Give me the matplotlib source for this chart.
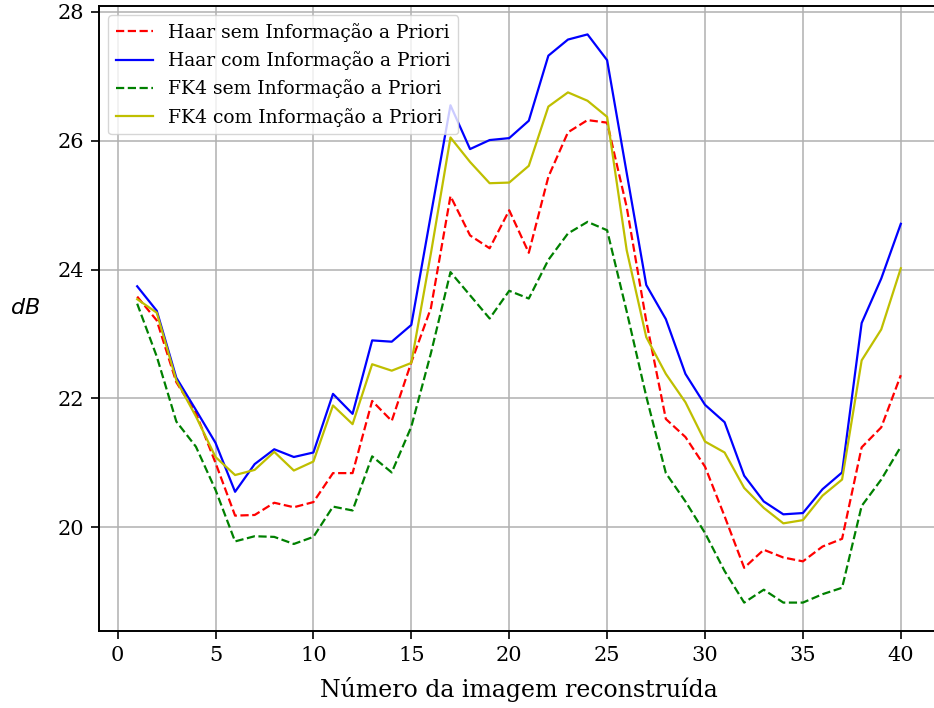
import numpy as np
import matplotlib
matplotlib.use("Agg")
import matplotlib.pyplot as plt

plt.rcParams['font.family'] = 'DejaVu Serif'

imagens = np.arange(1, 41)

haar_sem = [23.58, 23.21, 22.25, 21.77, 21.00, 20.18, 20.19, 20.38, 20.31, 20.39,
            20.84, 20.84, 21.96, 21.65, 22.56, 23.40, 25.14, 24.53, 24.33, 24.92,
            24.26, 25.44, 26.13, 26.32, 26.28, 24.97, 23.20, 21.68, 21.40, 20.94,
            20.17, 19.37, 19.65, 19.53, 19.47, 19.70, 19.82, 21.24, 21.55, 22.36]
haar_com = [23.74, 23.36, 22.32, 21.82, 21.31, 20.55, 20.98, 21.21, 21.09, 21.16,
            22.07, 21.76, 22.90, 22.88, 23.14, 24.85, 26.55, 25.87, 26.01, 26.04,
            26.31, 27.32, 27.57, 27.65, 27.25, 25.50, 23.76, 23.23, 22.38, 21.90,
            21.63, 20.80, 20.40, 20.20, 20.22, 20.59, 20.85, 23.17, 23.86, 24.71]
fk4_sem = [23.47, 22.65, 21.64, 21.25, 20.58, 19.78, 19.86, 19.85, 19.74, 19.85,
           20.32, 20.26, 21.10, 20.85, 21.56, 22.70, 23.96, 23.60, 23.24, 23.67,
           23.55, 24.15, 24.56, 24.74, 24.61, 23.35, 22.03, 20.84, 20.40, 19.91,
           19.32, 18.83, 19.03, 18.83, 18.83, 18.96, 19.06, 20.33, 20.74, 21.25]
fk4_com = [23.54, 23.33, 22.28, 21.72, 21.09, 20.81, 20.89, 21.17, 20.88, 21.02,
           21.89, 21.60, 22.53, 22.43, 22.55, 24.25, 26.05, 25.67, 25.34, 25.35,
           25.61, 26.53, 26.75, 26.62, 26.37, 24.30, 22.95, 22.38, 21.94, 21.33,
           21.16, 20.61, 20.30, 20.06, 20.11, 20.49, 20.74, 22.59, 23.07, 24.02]

fig = plt.figure(figsize=(9.34, 7.08), dpi=100)
ax = fig.add_axes([99 / 934, 77 / 708, 840 / 934, 625 / 708])

ax.plot(imagens, haar_sem, 'r--', linewidth=1.6, label='Haar sem Informação a Priori')
ax.plot(imagens, haar_com, 'b', linewidth=1.6, label='Haar com Informação a Priori')
ax.plot(imagens, fk4_sem, 'g--', linewidth=1.6, label='FK4 sem Informação a Priori')
ax.plot(imagens, fk4_com, 'y', linewidth=1.6, label='FK4 com Informação a Priori')

ax.set_xlabel('Número da imagem reconstruída', fontsize=17, labelpad=9)
ax.set_ylabel(r'$dB$', fontsize=16, rotation=0, labelpad=23)
ax.tick_params(labelsize=15, length=5.8, width=1.2, pad=5)
for s in ax.spines.values():
    s.set_linewidth(1.4)
ax.grid(True, linewidth=1.1)
ax.legend(loc='upper left', fontsize=13.5, handlelength=2.0)

fig.savefig('out.png', dpi=100)
